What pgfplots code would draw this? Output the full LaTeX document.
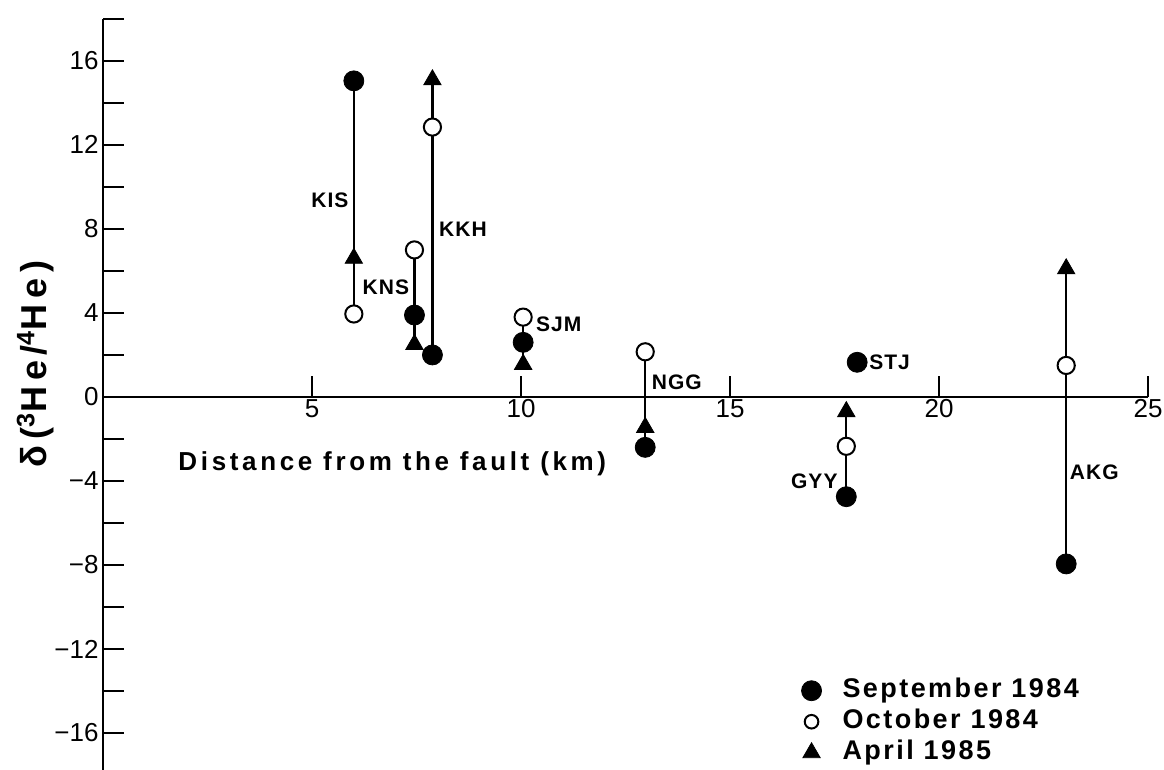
\documentclass[border=0pt]{standalone}
\usepackage{fontspec}
\setmainfont{Liberation Sans}
\newfontfamily\lsA[LetterSpace=5]{Liberation Sans}
\newfontfamily\lsB[LetterSpace=9]{Liberation Sans}
\newfontfamily\lsC[LetterSpace=14]{Liberation Sans}
\newfontfamily\lsD[LetterSpace=16]{Liberation Sans}
\usepackage{pgfplots}
\pgfplotsset{compat=1.18}
\pgfplotsset{
    dotlegend/.style={legend image code/.code={\draw[##1] plot coordinates {(0cm,0cm)};}},
    smalldotlegend/.style={legend image code/.code={\draw[##1, mark size=3.4pt] plot coordinates {(0cm,0cm)};}},
}

\begin{document}
\begin{tikzpicture}
\begin{axis}[
    scale only axis,
    width=522.5pt, height=378pt,
    xmin=0, xmax=25,
    ymin=-18, ymax=18,
    axis lines=middle,
    axis line style={line width=1.3pt, -},
    hide obscured x ticks=false,
    hide obscured y ticks=false,
    xtick={5,10,15,20,25},
    xticklabels={5,10,15,20,25},
    ytick={-16,-12,-8,-4,0,4,8,12,16},
    yticklabels={−16,−12,−8,−4,0,4,8,12,16},
    minor ytick={-18,-14,-10,-6,-2,2,6,10,14,18},
    tick align=inside,
    major tick length=10.5pt,
    minor tick length=10.5pt,
    tick style={black, line width=1.2pt},
    ticklabel style={font=\fontsize{13}{15}\selectfont},
    xticklabel style={inner sep=1pt},
    yticklabel style={inner sep=2pt},
    clip=false,
    legend cell align=left,
    legend style={draw=none, fill=none, inner sep=0pt,
        at={(axis cs:16.7,-13.35)}, anchor=north west,
        font=\lsB\bfseries\fontsize{13.5}{15}\selectfont,
        nodes={text height=10pt, text depth=3pt, inner sep=0pt},
        row sep=2.5pt,
        /tikz/every odd column/.append style={column sep=10.5pt}},
]
% vertical connecting lines, one per station
\addplot[line width=1.1pt, forget plot] coordinates {(6.00,3.95) (6.00,15.05)};   % KIS
\addplot[line width=1.1pt, forget plot] coordinates {(7.45,2.50) (7.45,7.00)};    % KNS
\addplot[line width=1.1pt, forget plot] coordinates {(7.88,2.00) (7.88,15.10)};   % KKH
\addplot[line width=1.1pt, forget plot] coordinates {(10.05,1.55) (10.05,3.80)};  % SJM
\addplot[line width=1.1pt, forget plot] coordinates {(12.97,-2.40) (12.97,2.15)}; % NGG
\addplot[line width=1.1pt, forget plot] coordinates {(17.78,-4.75) (17.78,-0.70)};% GYY
\addplot[line width=1.1pt, forget plot] coordinates {(23.04,-7.95) (23.04,6.10)}; % AKG

% September 1984
\addplot[only marks, mark=*, mark size=5pt, black, dotlegend]
coordinates {(6.00,15.05) (7.45,3.90) (7.88,2.00) (10.05,2.60)
             (12.97,-2.40) (18.04,1.65) (17.78,-4.75) (23.04,-7.95)};
\addlegendentry{September 1984}

% October 1984
\addplot[only marks, mark=*, mark size=4.3pt,
    mark options={draw=black, fill=white, line width=1pt}, smalldotlegend]
coordinates {(6.00,3.95) (7.45,7.00) (7.88,12.85) (10.05,3.80)
             (12.97,2.15) (17.78,-2.35) (23.04,1.50)};
\addlegendentry{October 1984}

% April 1985
\addplot[only marks, mark=triangle*, mark size=5pt, black, dotlegend]
coordinates {(6.00,6.60) (7.45,2.50) (7.88,15.10) (10.05,1.55)
             (12.97,-1.45) (17.78,-0.70) (23.04,6.10)};
\addlegendentry{April 1985}

% station names
\begin{scope}[every node/.style={font=\lsA\bfseries\fontsize{10.5}{12}\selectfont, inner sep=0pt}]
\node[anchor=east] at (axis cs:5.88,9.35) {KIS};
\node[anchor=east] at (axis cs:7.33,5.20) {KNS};
\node[anchor=west] at (axis cs:8.03,8.00) {KKH};
\node[anchor=west] at (axis cs:10.35,3.45) {SJM};
\node[anchor=west] at (axis cs:13.12,0.70) {NGG};
\node[anchor=west] at (axis cs:18.32,1.65) {STJ};
\node[anchor=east] at (axis cs:17.58,-4.00) {GYY};
\node[anchor=west] at (axis cs:23.12,-3.60) {AKG};
\end{scope}

% axis titles
\node[anchor=base, inner sep=0pt, font=\lsC\bfseries\fontsize{13}{15}\selectfont]
    at (axis cs:6.92,-3.48) {Distance from the fault (km)};
\node[anchor=base, rotate=90, inner sep=0pt, font=\lsD\bfseries\fontsize{18}{21}\selectfont]
    at (axis cs:-1.34,1.57) {δ(\textsuperscript{3}He/\textsuperscript{4}He)};

\coordinate (bbl) at (axis cs:-2.464,-17.76);
\coordinate (btr) at (axis cs:25.38,18.9);
\end{axis}
\pgfresetboundingbox
\path[use as bounding box] (bbl) rectangle (btr);
\end{tikzpicture}
\end{document}
